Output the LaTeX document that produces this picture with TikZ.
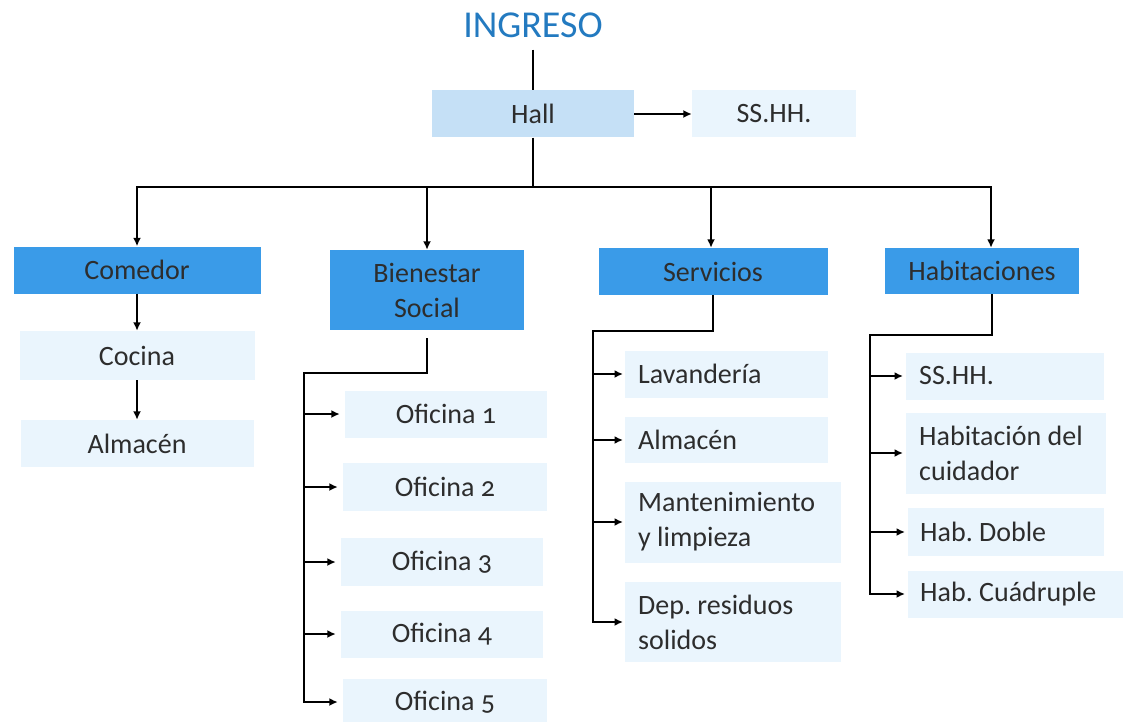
\documentclass[tikz,border=0pt]{standalone}
\usepackage{fontspec}
\setmainfont{Carlito}[Numbers=OldStyle]
\usepackage{tikz}
\usetikzlibrary{shapes,arrows,arrows.meta}
\usetikzlibrary{positioning}
\definecolor{ingresoblue}{RGB}{35,122,192}
\definecolor{headblue}{RGB}{58,155,232}
\definecolor{hallblue}{RGB}{197,224,246}
\definecolor{roomblue}{RGB}{234,245,253}
\definecolor{txtgray}{RGB}{45,45,45}
\frenchspacing
\tikzstyle{head} = [rectangle, fill=headblue, text=txtgray, 
    align=center, inner sep=0pt, minimum height=47pt]
\tikzstyle{hallbox} = [rectangle, fill=hallblue, text=txtgray, 
    inner sep=0pt, minimum height=47pt]
\tikzstyle{room} = [rectangle, fill=roomblue, text=txtgray, 
    inner sep=0pt, minimum height=47pt]
\tikzstyle{roomleft} = [room, anchor=west, align=flush left, inner xsep=13pt]
\tikzstyle{line} = [draw, line width=1.7pt, -{Latex[length=8.5pt,width=8pt]}]
\tikzstyle{trunk} = [draw, line width=1.7pt]

\begin{document}
\begin{tikzpicture}[x=1pt,y=-1pt,font=\fontsize{28}{35}\selectfont]
    \useasboundingbox (0,0) rectangle (1129,722);
    % Place nodes
    \node[text=ingresoblue, font=\fontsize{38}{44}\selectfont, inner xsep=0pt, inner ysep=12pt] (ingreso) at (533,25) {INGRESO};
    \node[hallbox, minimum width=202pt] (hall) at (533,114) {Hall};
    \node[room, minimum width=164pt] (sshh) at (774,114) {SS.HH.};
    \coordinate (bus) at (533,187);
    \node[head, minimum width=247pt] (comedor) at (137,270) {Comedor};
    \node[head, minimum width=194pt, minimum height=80pt] (bienestar) at (427,290) {Bienestar\\Social};
    \node[head, minimum width=229pt] (servicios) at (713,271.5) {Servicios};
    \node[head, minimum width=194pt, minimum height=46pt] (habit) at (982,271) {Habitaciones};
    % Comedor
    \node[room, minimum width=235pt, minimum height=49pt] (cocina) at (137,355.5) {Cocina};
    \node[room, minimum width=233pt] (almacen) at (137,443.5) {Almacén};
    % Bienestar Social
    \coordinate (bsturn) at (304,373);
    \node[room, minimum width=202pt] (of1) at (446,414) {Oficina 1};
    \node[room, minimum width=204pt, minimum height=48pt] (of2) at (445,487) {Oficina 2};
    \node[room, minimum width=202pt, minimum height=48pt] (of3) at (442,562) {Oficina 3};
    \node[room, minimum width=202pt] (of4) at (442,634) {Oficina 4};
    \node[room, minimum width=204pt] (of5) at (445,702) {Oficina 5};
    % Servicios
    \coordinate (svturn) at (593,331);
    \node[roomleft, text width=177pt] (lav) at (625,374) {Lavandería};
    \node[roomleft, text width=177pt, minimum height=46pt] (almserv) at (625,440) {Almacén};
    \node[roomleft, text width=190pt, minimum height=81pt] (mant) at (625,522) {Mantenimiento\\y limpieza};
    \node[roomleft, text width=190pt, minimum height=80pt] (dep) at (625,622) {Dep. residuos\\solidos};
    % Habitaciones
    \coordinate (hbturn) at (870,335);
    \node[roomleft, text width=172pt] (habss) at (906,376) {SS.HH.};
    \node[roomleft, text width=174pt, minimum height=81pt] (cuidador) at (906,453) {Habitación del\\cuidador};
    \node[roomleft, text width=172pt, minimum height=48pt, inner xsep=12pt] (doble) at (908,532) {Hab. Doble};
    \node[roomleft, text width=191pt, inner xsep=12pt] (cuadruple) at (908,594) {Hab. Cuádruple};
    % Draw edges
    \path [trunk] (ingreso) -- (hall);
    \path [line] (hall) -- (sshh);
    \path [trunk] (hall) -- (bus);
    \path [line] (bus) -| (comedor);
    \path [line] (bus) -| (bienestar);
    \path [line] (bus) -| ([xshift=-2pt]servicios.north);
    \path [line] (bus) -| ([xshift=9pt]habit.north);
    \path [line] (comedor) -- (cocina);
    \path [line] (cocina) -- (almacen);
    \path [line, shorten >=5pt] ([yshift=-8pt]bienestar.south) |- (bsturn) |- (of5.west);
    \foreach \n in {of1,of2,of3,of4}
        \path [line, shorten >=5pt] (\n.west -| bsturn) -- (\n.west);
    \path [line, shorten >=2pt] (servicios.south) |- (svturn) |- (dep.west);
    \foreach \n in {lav,almserv,mant}
        \path [line, shorten >=2pt] (\n.west -| svturn) -- (\n.west);
    \path [line, shorten >=3pt] ([xshift=10pt]habit.south) |- (hbturn) |- (cuadruple.west);
    \foreach \n in {habss,cuidador,doble}
        \path [line, shorten >=3pt] (\n.west -| hbturn) -- (\n.west);
\end{tikzpicture}
\end{document}
